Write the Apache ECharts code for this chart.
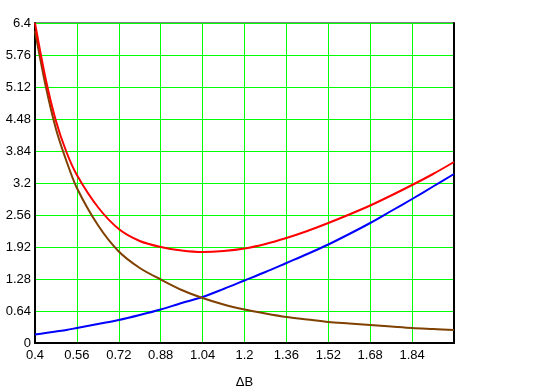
<!DOCTYPE html>
<html>
<head>
<meta charset="utf-8">
<script src="https://cdn.jsdelivr.net/npm/echarts@6/dist/echarts.min.js"></script>
<style>
  html, body { margin: 0; padding: 0; background: #fff; }
  #chart { width: 547px; height: 387px; }
</style>
</head>
<body>
<div id="chart"></div>
<script>
// values
var xValues = [0.4, 0.44, 0.48, 0.52, 0.56, 0.64, 0.72, 0.8, 0.88, 0.96, 1.04, 1.12,
  1.2, 1.28, 1.36, 1.44, 1.52, 1.6, 1.68, 1.76, 1.84, 1.92, 2.0]
var redValues = [6.40, 5.30, 4.44, 3.82, 3.36, 2.72, 2.28, 2.04, 1.92, 1.85, 1.82, 1.84,
  1.89, 1.98, 2.10, 2.24, 2.40, 2.57, 2.75, 2.95, 3.16, 3.38, 3.62]
var brownValues = [6.24, 5.16, 4.28, 3.64, 3.10, 2.36, 1.83, 1.50, 1.27, 1.06, 0.90, 0.77,
  0.67, 0.59, 0.52, 0.47, 0.42, 0.39, 0.36, 0.33, 0.30, 0.28, 0.26]
var blueValues = [0.17, 0.20, 0.23, 0.26, 0.30, 0.38, 0.46, 0.56, 0.67, 0.80, 0.92, 1.08,
  1.25, 1.42, 1.60, 1.78, 1.97, 2.18, 2.40, 2.64, 2.88, 3.13, 3.38]
var xName = 'ΔB'

function pairs(ys) {
  return xValues.map(function (x, i) { return [x, ys[i]] })
}
function fmt(v) {
  return String(+v.toFixed(2))
}

var chart = echarts.init(document.getElementById('chart'))
var labelStyle = { color: '#000', fontFamily: 'Liberation Sans', fontSize: 13 }

chart.setOption({
  animation: false,
  grid: {
    left: 35, right: 93, top: 23, bottom: 44,
    outerBoundsMode: 'none',
    containLabel: false,
    show: true, borderColor: '#000', borderWidth: 1
  },
  xAxis: {
    type: 'value',
    min: 0.4, max: 2.0, interval: 0.16,
    name: xName,
    nameLocation: 'middle',
    nameGap: 33,
    nameTextStyle: { color: '#000', fontFamily: 'Liberation Sans', fontSize: 13 },
    axisLine: { lineStyle: { color: '#000', width: 2 } },
    axisTick: { show: false },
    axisLabel: Object.assign({ formatter: fmt, margin: 6, showMaxLabel: false }, labelStyle),
    splitLine: { show: true, lineStyle: { color: '#00ff00', width: 1 } }
  },
  yAxis: [
    {
      type: 'value',
      min: 0, max: 6.4, interval: 0.64,
      axisLine: { show: true, lineStyle: { color: '#000', width: 2 } },
      axisTick: { show: false },
      axisLabel: Object.assign({ formatter: fmt, margin: 4 }, labelStyle),
      splitLine: { show: true, lineStyle: { color: '#00ff00', width: 1 } }
    },
    {
      // right frame line only
      type: 'value', position: 'right',
      min: 0, max: 6.4, interval: 0.64,
      axisLine: { show: true, lineStyle: { color: '#000', width: 2 } },
      axisTick: { show: false },
      axisLabel: { show: false },
      splitLine: { show: false }
    }
  ],
  series: [
    {
      type: 'line', data: pairs(blueValues), smooth: 0.3, showSymbol: false,
      lineStyle: { color: '#0000ff', width: 2 }
    },
    {
      type: 'line', data: pairs(brownValues), smooth: 0.3, showSymbol: false,
      lineStyle: { color: '#804000', width: 2 }
    },
    {
      type: 'line', data: pairs(redValues), smooth: 0.3, showSymbol: false,
      lineStyle: { color: '#ff0000', width: 2 }
    }
  ]
})
</script>
</body>
</html>
